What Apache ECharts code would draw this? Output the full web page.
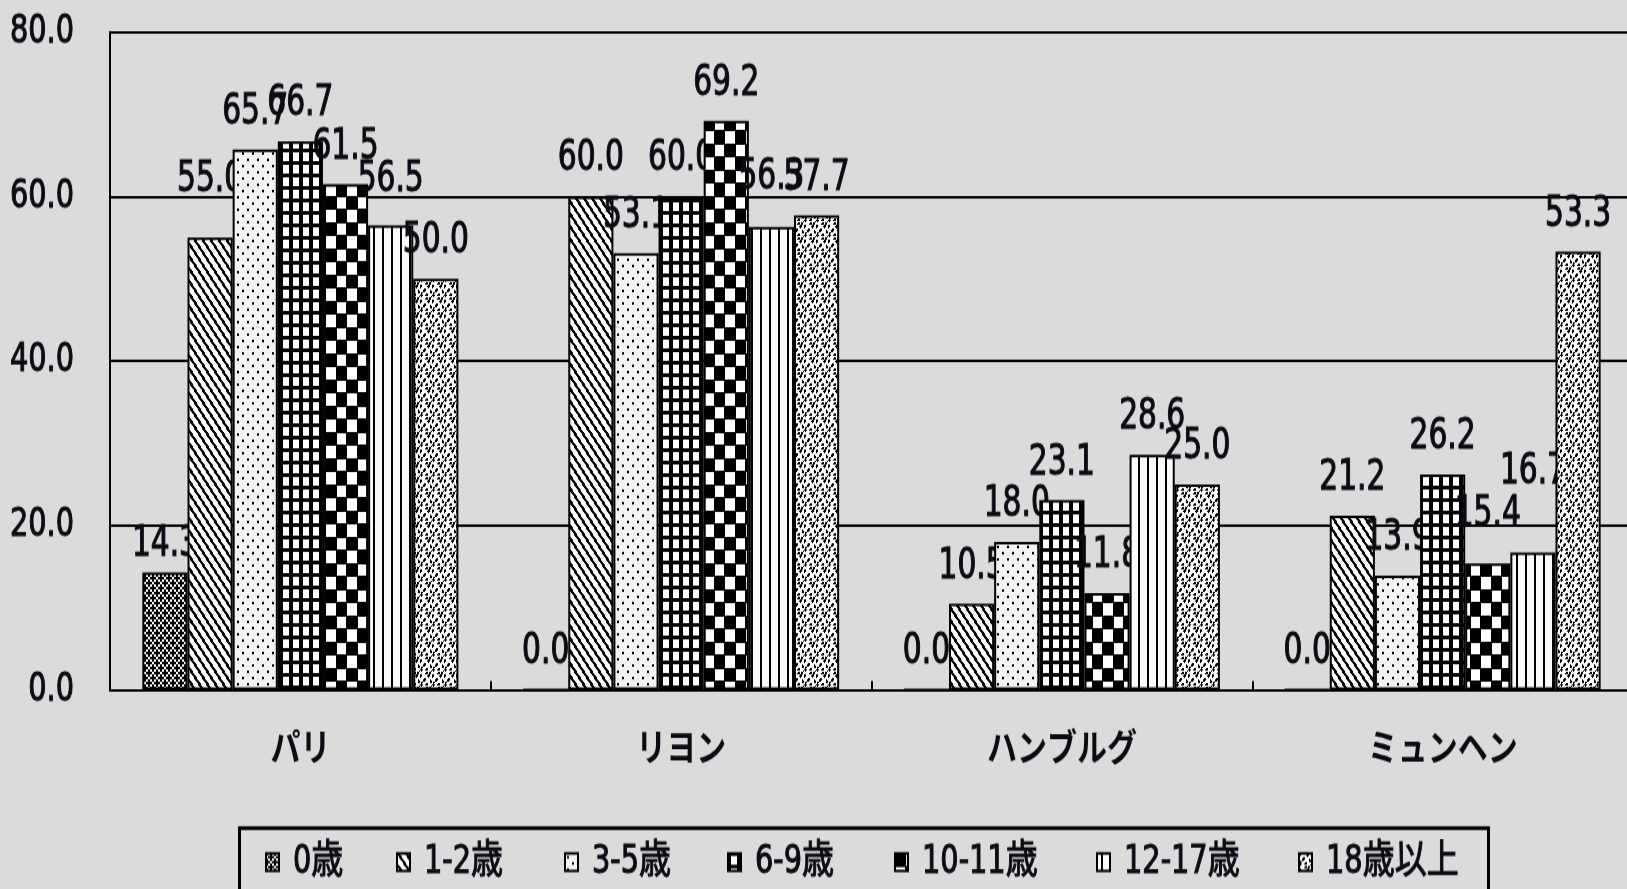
<!DOCTYPE html>
<html>
<head>
<meta charset="utf-8">
<script src="https://cdn.jsdelivr.net/npm/echarts@6/dist/echarts.min.js"></script>
<style>
  html, body { margin: 0; padding: 0; background: #dbdbdb; overflow: hidden; }
  #wrap { width: 1627px; height: 889px; overflow: hidden; }
  /* the chart is laid out on a shorter canvas and stretched to full height,
     which gives the tall, narrow lettering of the original sheet */
  #chart { width: 1627px; height: 712px; transform-origin: 0 0; }
</style>
</head>
<body>
<div id="wrap"><div id="chart"></div></div>
<script>
// ---- data ----
const categories = ['パリ', 'リヨン', 'ハンブルグ', 'ミュンヘン'];
const ageGroups = ['0歳', '1-2歳', '3-5歳', '6-9歳', '10-11歳', '12-17歳', '18歳以上'];
const age0     = [14.3,  0.0,  0.0,  0.0];
const age1to2  = [55.0, 60.0, 10.5, 21.2];
const age3to5  = [65.7, 53.1, 18.0, 13.9];
const age6to9  = [66.7, 60.0, 23.1, 26.2];
const age10to11 = [61.5, 69.2, 11.8, 15.4];
const age12to17 = [56.5, 56.3, 28.6, 16.7];
const age18up  = [50.0, 57.7, 25.0, 53.3];
const yMin = 0, yMax = 80, yStep = 20;

// ---- layout / style ----
const H = 712;
const STRETCH = 889 / H;
document.getElementById('chart').style.transform = 'scaleY(' + STRETCH + ')';

const NUM_FONT = "'Liberation Sans Narrow', 'Arial Narrow', 'DejaVu Sans Condensed', 'Noto Sans CJK JP', sans-serif";
const JP_FONT = "'Noto Sans CJK JP', sans-serif";
const INK = '#0b0b14';
const BG = '#dbdbdb';
// a thin outline in the ink colour gives the numbers a slightly heavier stroke
const HEAVY = { textBorderColor: INK, textBorderWidth: 0.9 };

// vertical nudges (px) for value labels that were moved apart by hand
const labelNudge = [
  [8, 0, 0, 0],
  [-16, 0, 0, 0],
  [0, 0, 0, 0],
  [0, 0, 0, 0],
  [0, 0, 0, -9],
  [-7, -10, 0, -35],
  [0, 0, 0, 0]
];

// monochrome fill tiles, one per age group
function makeTile(rows, px, bg) {
  const h = rows.length, w = rows[0].length;
  const c = document.createElement('canvas');
  c.width = w * px; c.height = h * px;
  const g = c.getContext('2d');
  g.fillStyle = bg; g.fillRect(0, 0, c.width, c.height);
  g.fillStyle = '#000';
  rows.forEach((r, y) => {
    for (let x = 0; x < w; x++) if (r[x] === '#') g.fillRect(x * px, y * px, px, px);
  });
  return c;
}
const tiles = [
  makeTile(['#.#.', '.###', '#.#.', '##.#'], 2, '#ffffff'),
  makeTile([
    '###.....',
    '.###....',
    '..###...',
    '..###...',
    '...###..',
    '....###.',
    '.....###',
    '#.....##',
    '#.....##',
    '##.....#'], 1, '#ffffff'),
  makeTile(['..........', '..........', '..##......', '..##......', '..........', '..........', '..........', '.......##.', '.......##.', '..........'], 1, '#f3f3f3'),
  makeTile([
    '##########',
    '##########',
    '###......#',
    '###......#',
    '###......#',
    '###......#',
    '###......#',
    '###......#',
    '###......#',
    '##########'], 1, '#ffffff'),
  makeTile([
    '###########..........',
    '###########..........',
    '###########..........',
    '###########..........',
    '###########..........',
    '###########..........',
    '###########..........',
    '###########..........',
    '###########..........',
    '###########..........',
    '#####################',
    '#.........###########',
    '#.........###########',
    '#.........###########',
    '#.........###########',
    '#.........###########',
    '#.........###########',
    '#.........###########',
    '#.........###########',
    '#.........###########',
    '#####################'], 1, '#ffffff'),
  makeTile(['....##...'], 1, '#fbfbfb'),
  makeTile([
    '##......##..',
    '##.....###..',
    '#.......#...',
    '....##......',
    '...###....#.',
    '...##.....##',
    '.##.......##',
    '.#....##....',
    '###..###....',
    '.#.........#',
    '......##.##.',
    '.....###.##.'], 1, '#ffffff')
];

const seriesValues = [age0, age1to2, age3to5, age6to9, age10to11, age12to17, age18up];

// legend item left edges (one legend per group, framed by a single box)
const legendLeft = [265, 396, 564, 727, 894, 1096, 1298];

const chart = echarts.init(document.getElementById('chart'), null, { renderer: 'canvas', width: 1627, height: H });

const option = {
  backgroundColor: BG,
  animation: false,
  grid: {
    left: 110, right: -6, top: 32 / STRETCH, bottom: H - 690 / STRETCH,
    containLabel: false, outerBoundsMode: 'none'
  },
  xAxis: {
    type: 'category',
    data: categories,
    axisLine: { show: true, lineStyle: { color: '#000', width: 2 } },
    axisTick: { show: true, inside: true, length: 7, lineStyle: { color: '#000', width: 2 } },
    axisLabel: { color: INK, fontFamily: JP_FONT, fontWeight: 'bold', fontSize: 30, margin: 30 },
    splitLine: { show: false },
    z: 20
  },
  yAxis: {
    type: 'value',
    min: yMin, max: yMax, interval: yStep,
    axisLine: { show: true, lineStyle: { color: '#000', width: 2 } },
    axisTick: { show: false },
    axisLabel: Object.assign({
      color: INK, fontFamily: NUM_FONT, fontSize: 32, margin: 36,
      formatter: v => v.toFixed(1)
    }, HEAVY),
    splitLine: { show: true, lineStyle: { color: '#000', width: 2 } }
  },
  legend: ageGroups.map((name, i) => ({
    data: [name],
    left: legendLeft[i],
    top: 674,
    orient: 'horizontal',
    padding: 0,
    itemGap: 0,
    itemWidth: 13,
    itemHeight: 14,
    icon: 'rect',
    selectedMode: false,
    textStyle: Object.assign({ color: INK, fontFamily: NUM_FONT, fontSize: 32, padding: [0, 0, 0, 9] }, HEAVY)
  })),
  graphic: [{
    type: 'rect',
    left: 237, top: 825 / STRETCH,
    shape: { width: 1249, height: 120 },
    style: { fill: 'none', stroke: '#000', lineWidth: 3 },
    silent: true
  }],
  // each group is stacked above the previous one, so a later group's bars
  // can cover the value labels of the group drawn before it
  series: ageGroups.map((name, i) => ({
    name,
    type: 'bar',
    z: 2 + i,
    data: seriesValues[i].map((v, j) => ({
      value: v,
      label: { offset: [0, labelNudge[i][j]] }
    })),
    barGap: '0%',
    barCategoryGap: '17%',
    itemStyle: {
      color: { image: tiles[i], repeat: 'repeat' },
      borderColor: '#000',
      borderWidth: 2
    },
    emphasis: { disabled: true },
    label: Object.assign({
      show: true,
      position: 'top',
      distance: 13,
      color: INK,
      fontFamily: NUM_FONT,
      fontSize: 33,
      formatter: p => p.value.toFixed(1)
    }, HEAVY)
  }))
};
chart.setOption(option);
</script>
</body>
</html>
